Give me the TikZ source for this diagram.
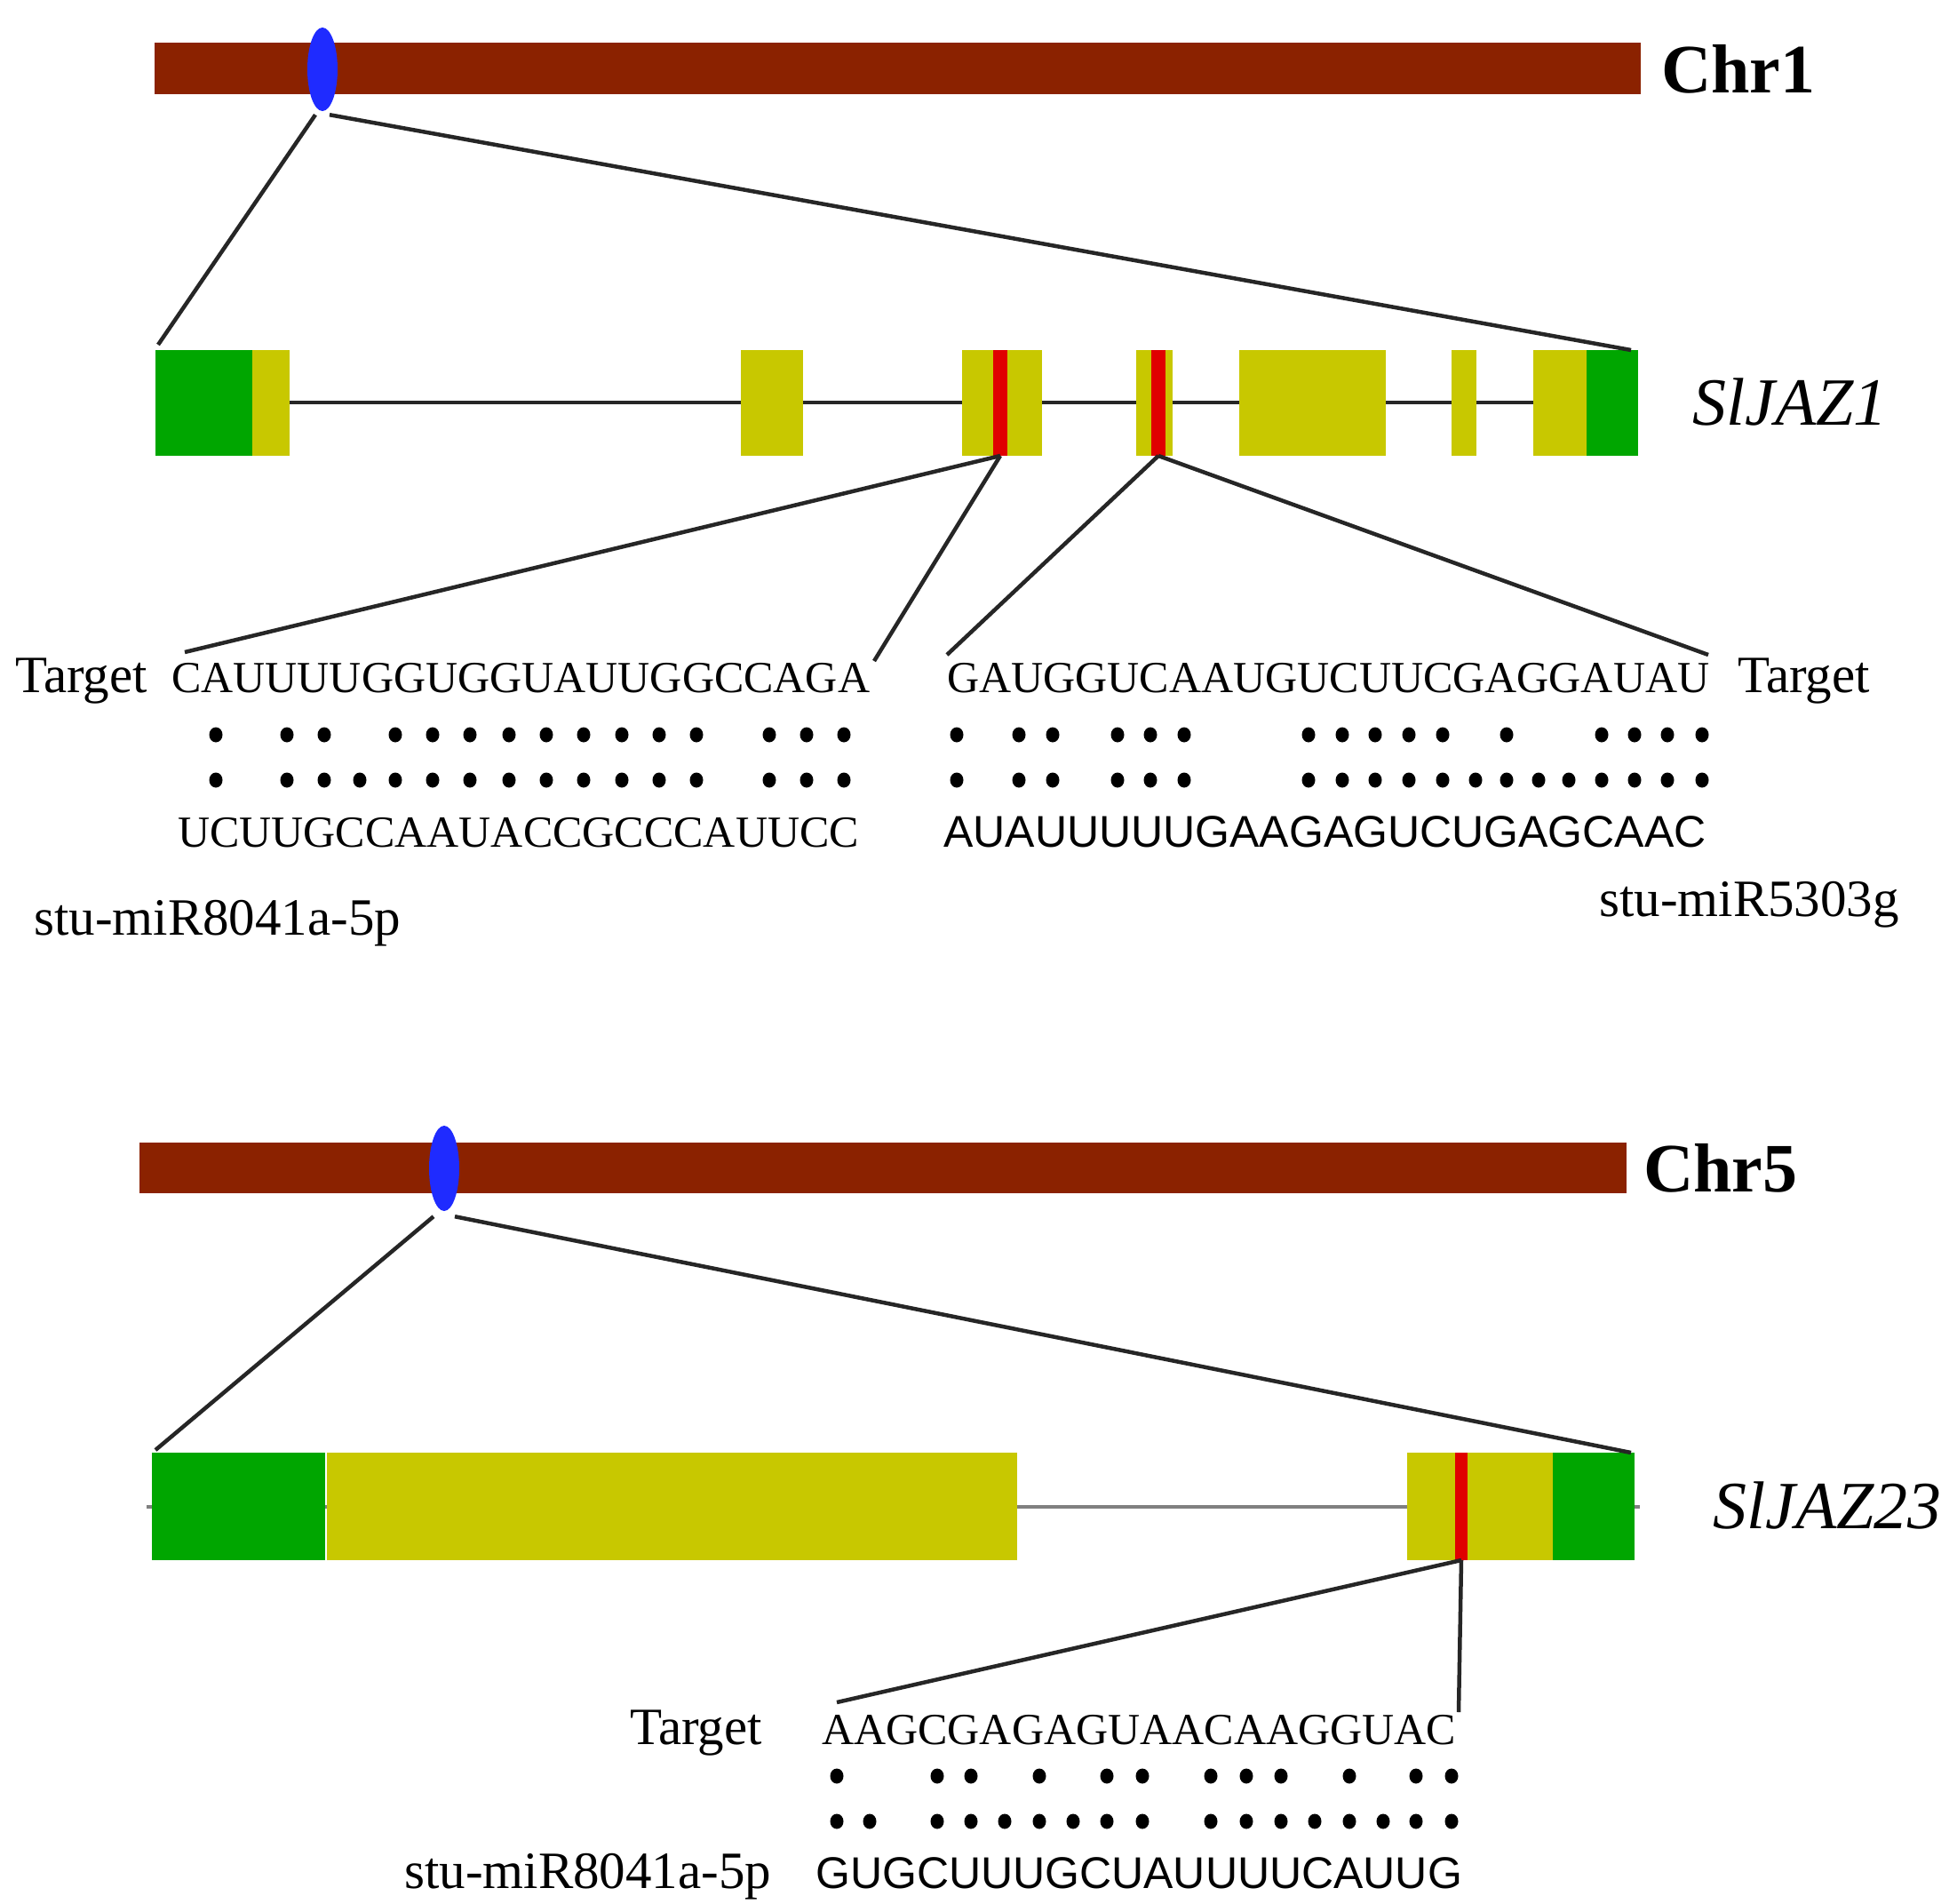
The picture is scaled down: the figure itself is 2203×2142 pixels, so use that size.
\documentclass[tikz,border=0pt]{standalone}
\usepackage{fontspec}
\usetikzlibrary{shapes.geometric}
\setmainfont{Liberation Serif}
\newfontfamily\arialf{Liberation Sans}
\definecolor{chrbrown}{HTML}{8B2200}
\definecolor{locusblue}{HTML}{1F2BFF}
\definecolor{utrgreen}{HTML}{00A600}
\definecolor{exonyellow}{HTML}{C8C800}
\definecolor{siteRed}{HTML}{E00000}
\begin{document}
\begin{tikzpicture}[x=1pt,y=-1pt,
  txt/.style={inner sep=0pt,anchor=base west,font=\fontsize{50}{50}\selectfont},
  lbl/.style={txt,font=\fontsize{59}{59}\selectfont},
  seqa/.style={txt,font=\arialf\fontsize{50}{50}\selectfont},
  chr/.style={inner sep=0pt,anchor=west,font=\fontsize{78}{78}\selectfont\bfseries},
  gene/.style={inner sep=0pt,anchor=west,font=\fontsize{76}{76}\selectfont\itshape},
  link/.style={line width=4.5pt,black!85},
  pair/.style={fill=black}]
\useasboundingbox (0,0) rectangle (2203,2142);

% Chr1
\fill[chrbrown] (174,48) rectangle (1847,106);
\node[ellipse,fill=locusblue,minimum width=34pt,minimum height=94pt,inner sep=0pt] (loc1) at (363,78) {};
\node[chr] (chr1) at (1870,78) {Chr1};

% SlJAZ1 gene model
\draw[line width=4.5pt,black!85] (175,453) -- (1844,453);
\fill[utrgreen] (175,394) rectangle (284,513);
\fill[exonyellow] (284,394) rectangle (326,513);
\fill[exonyellow] (834,394) rectangle (904,513);
\fill[exonyellow] (1083,394) rectangle (1173,513);
\fill[exonyellow] (1279,394) rectangle (1320,513);
\fill[exonyellow] (1395,394) rectangle (1560,513);
\fill[exonyellow] (1634,394) rectangle (1662,513);
\fill[exonyellow] (1726,394) rectangle (1786,513);
\fill[utrgreen] (1786,394) rectangle (1844,513);
\fill[siteRed] (1118,394) rectangle (1134,513);
\fill[siteRed] (1296,394) rectangle (1312,513);
\node[gene] (jaz1) at (1905,452) {SlJAZ1};
\coordinate (g1l) at (178,388);
\coordinate (g1r) at (1836,394);
\coordinate (s1) at (1126,513);
\coordinate (s2) at (1304,513);
\draw[link] (loc1.south) ++(-8pt,-4pt) -- (g1l);
\draw[link] (loc1.south) ++(8pt,-4pt) -- (g1r);

% SlJAZ1 sites
\node[lbl] (t1) at (17,779) {Target};
\node[txt] (q1) at (193,779) {CAUUUUGGUGGUAUUGGCCAGA};
\node[txt] (q2) at (1066,779) {GAUGGUCAAUGUCUUCGAGGAUAU};
\node[lbl] (t2) at (1956,779) {Target};
\node[txt] (m1) at (200,953) {UCUUGCCAAUACCGCCCAUUCC};
\node[seqa] (m2) at (1062,953) {AUAUUUUUGAAGAGUCUGAGCAAC};
\node[lbl] (n1) at (38,1052) {stu-miR8041a-5p};
\node[lbl] (n2) at (1800,1031) {stu-miR5303g};
\coordinate (q1l) at (208,734);
\coordinate (q1r) at (984,744);
\coordinate (q2l) at (1066,737);
\coordinate (q2r) at (1923,737);
\draw[link] (s1) -- (q1l);
\draw[link] (s1) -- (q1r);
\draw[link] (s2) -- (q2l);
\draw[link] (s2) -- (q2r);
\foreach \x in {243,323,365,445,487,529,573,615,657,700,742,784,866,908,950,
  1077,1147,1185,1258,1295,1333,1473,1511,1548,1586,1624,1696,1803,1840,1877,1916}
  \fill[pair] (\x,827) ellipse (7.5 and 8.5);
\foreach \x in {243,323,365,405,445,487,529,573,615,657,700,742,784,866,908,950,
  1077,1147,1185,1258,1295,1333,1473,1511,1548,1586,1624,1661,1696,1732,1766,1803,1840,1877,1916}
  \fill[pair] (\x,878) ellipse (7.5 and 8.5);

% Chr5
\fill[chrbrown] (157,1286) rectangle (1831,1343);
\node[ellipse,fill=locusblue,minimum width=34pt,minimum height=96pt,inner sep=0pt] (loc5) at (500,1315) {};
\node[chr] (chr5) at (1850,1315) {Chr5};

% SlJAZ23 gene model
\draw[line width=4.5pt,gray] (165,1696) -- (1846,1696);
\fill[utrgreen] (171,1635) rectangle (366,1756);
\fill[exonyellow] (368,1635) rectangle (1145,1756);
\fill[exonyellow] (1584,1635) rectangle (1748,1756);
\fill[utrgreen] (1748,1635) rectangle (1840,1756);
\fill[siteRed] (1638,1635) rectangle (1652,1756);
\node[gene] (jaz23) at (1928,1694) {SlJAZ23};
\coordinate (g2l) at (175,1632);
\coordinate (g2r) at (1836,1635);
\coordinate (s3) at (1645,1756);
\draw[link] (loc5.south) ++(-12pt,-6pt) -- (g2l);
\draw[link] (loc5.south) ++(12pt,-6pt) -- (g2r);

% SlJAZ23 site
\node[lbl] (t3) at (709,1963) {Target};
\node[txt] (q3) at (925,1963) {AAGCGAGAGUAACAAGGUAC};
\node[lbl] (n3) at (455,2125) {stu-miR8041a-5p};
\node[seqa] (m3) at (918,2125) {GUGCUUUGCUAUUUUCAUUG};
\coordinate (q3l) at (942,1916);
\coordinate (q3r) at (1642,1927);
\draw[link] (s3) -- (q3l);
\draw[link] (s3) -- (q3r);
\foreach \x in {942,1055,1093,1170,1246,1286,1363,1403,1442,1519,1594,1634}
  \fill[pair] (\x,1999) ellipse (7.5 and 8.5);
\foreach \x in {942,979,1055,1093,1131,1170,1208,1246,1286,1363,1403,1442,1480,1519,1557,1594,1634}
  \fill[pair] (\x,2050) ellipse (7.5 and 8.5);
\end{tikzpicture}
\end{document}
